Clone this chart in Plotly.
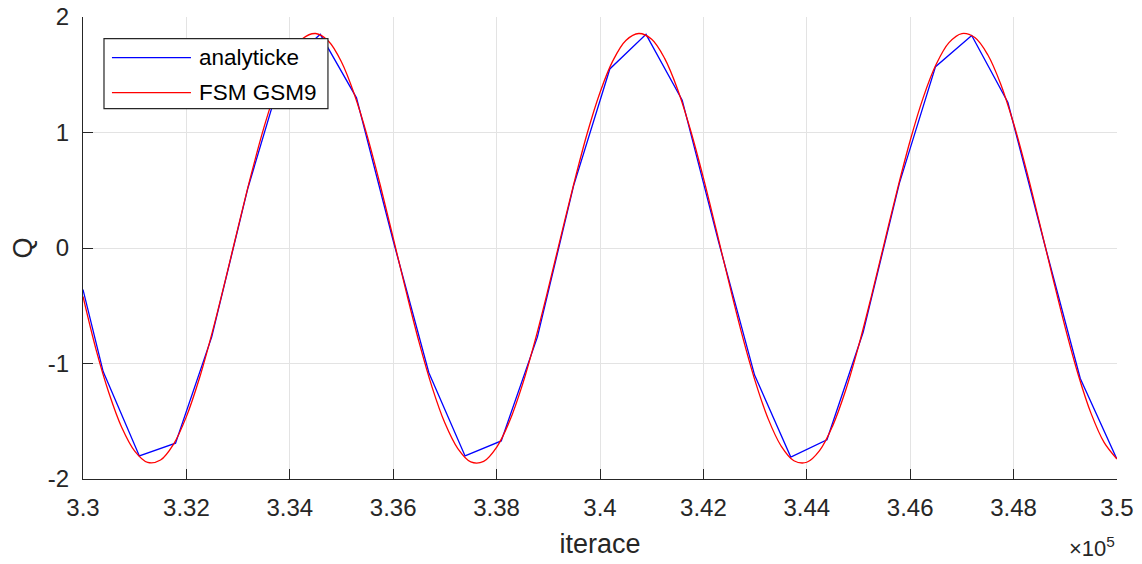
import plotly.graph_objects as go

# Analytic solution, sampled every ~700 iterations (first point at the left axis limit)
analytic_x = [330000, 330390, 331090, 331790, 332490, 333190, 333890, 334590, 335290,
              335990, 336690, 337390, 338090, 338790, 339490, 340190, 340890, 341590,
              342290, 342990, 343690, 344390, 345090, 345790, 346490, 347190, 347890,
              348590, 349290, 349990]
analytic_q = [-0.36, -1.07, -1.80, -1.69, -0.77, 0.52, 1.57, 1.85, 1.30,
              0.08, -1.08, -1.80, -1.67, -0.77, 0.54, 1.55, 1.85, 1.28,
              0.06, -1.10, -1.81, -1.66, -0.73, 0.56, 1.57, 1.84, 1.26,
              0.05, -1.13, -1.82]

# FSM GSM9 result, one value every 250 iterations from 330000 to 350000
fsm_x = list(range(330000, 350001, 250))
fsm_q = [-0.42, -0.875, -1.253, -1.554, -1.758, -1.856, -1.836, -1.700, -1.460, -1.130,
         -0.730, -0.284, 0.179, 0.631, 1.044, 1.393, 1.654, 1.813, 1.857, 1.790,
         1.610, 1.329, 0.967, 0.543, 0.087, -0.376, -0.815, -1.202, -1.516, -1.737,
         -1.852, -1.848, -1.726, -1.501, -1.183, -0.791, -0.350, 0.112, 0.567, 0.989,
         1.347, 1.622, 1.797, 1.857, 1.807, 1.642, 1.375, 1.022, 0.607, 0.154,
         -0.309, -0.754, -1.150, -1.476, -1.712, -1.842, -1.855, -1.752, -1.540, -1.234,
         -0.852, -0.416, 0.045, 0.504, 0.931, 1.300, 1.588, 1.778, 1.857, 1.822,
         1.673, 1.420, 1.078, 0.670, 0.220, -0.243, -0.691, -1.097, -1.434, -1.683,
         -1.827]

x_tickvals = [330000, 332000, 334000, 336000, 338000, 340000, 342000, 344000,
              346000, 348000, 350000]
x_ticktext = ["3.3", "3.32", "3.34", "3.36", "3.38", "3.4", "3.42", "3.44",
              "3.46", "3.48", "3.5"]
y_tickvals = [-2, -1, 0, 1, 2]
y_ticktext = ["-2", "-1", "0", "1", "2"]

series_names = ["analyticke", "FSM GSM9"]
series_colors = ["#0000ff", "#ff0000"]

axis_color = "#262626"
grid_color = "#e3e3e3"
font_family = "Liberation Sans, Arial, sans-serif"
tick_size = 24
label_size = 27
legend_size = 22.5

fig = go.Figure()
fig.add_trace(go.Scatter(x=analytic_x, y=analytic_q, mode="lines", name=series_names[0],
                         line=dict(color=series_colors[0], width=1.3), showlegend=False))
fig.add_trace(go.Scatter(x=fsm_x, y=fsm_q, mode="lines", name=series_names[1],
                         line=dict(color=series_colors[1], width=1.3, shape="spline",
                                   smoothing=1.0), showlegend=False))

fig.update_layout(
    width=1142, height=564,
    margin=dict(l=83, r=25, t=17, b=85),
    paper_bgcolor="white", plot_bgcolor="white",
    font=dict(family=font_family, size=tick_size, color=axis_color),
    showlegend=False,
    xaxis=dict(range=[330000, 350000], tickmode="array", tickvals=x_tickvals,
               ticktext=x_ticktext, ticks="inside", ticklen=10, tickwidth=1,
               tickcolor=axis_color, showline=True, linecolor=axis_color,
               linewidth=1, mirror=False, showgrid=True, gridcolor=grid_color,
               gridwidth=1, zeroline=False, ticklabelstandoff=7, automargin=False,
               title=dict(text="iterace", standoff=14,
                          font=dict(size=label_size, color=axis_color))),
    yaxis=dict(range=[-2, 2], tickmode="array", tickvals=y_tickvals,
               ticktext=y_ticktext, ticks="inside", ticklen=10, tickwidth=1,
               tickcolor=axis_color, showline=True, linecolor=axis_color,
               linewidth=1, mirror=False, showgrid=True, gridcolor=grid_color,
               gridwidth=1, zeroline=False, ticklabelstandoff=8, automargin=False,
               title=dict(text="Q", standoff=7,
                          font=dict(size=label_size, color=axis_color))),
)

# Exponent of the x axis
fig.add_annotation(text="\u00d710<sup>5</sup>", xref="paper", yref="paper",
                   x=1.0, y=-0.148, xanchor="right", yanchor="middle",
                   showarrow=False, font=dict(size=22, color=axis_color))

# Legend box in the upper left corner of the axes
box_x0, box_x1, box_y0, box_y1 = 0.0203, 0.2369, 0.8015, 0.953
fig.add_shape(type="rect", xref="paper", yref="paper", layer="above",
              x0=box_x0, x1=box_x1, y0=box_y0, y1=box_y1,
              fillcolor="white", line=dict(color=axis_color, width=1.2))
row_y = [0.9119, 0.8362]
for name, color, ry in zip(series_names, series_colors, row_y):
    fig.add_shape(type="line", xref="paper", yref="paper", layer="above",
                  x0=0.0280, x1=0.1044, y0=ry, y1=ry,
                  line=dict(color=color, width=1.3))
    fig.add_annotation(text=name, xref="paper", yref="paper", x=0.1103, y=ry,
                       xanchor="left", yanchor="middle", showarrow=False,
                       font=dict(size=legend_size, color="#000000"))

fig.write_html("out.html")
